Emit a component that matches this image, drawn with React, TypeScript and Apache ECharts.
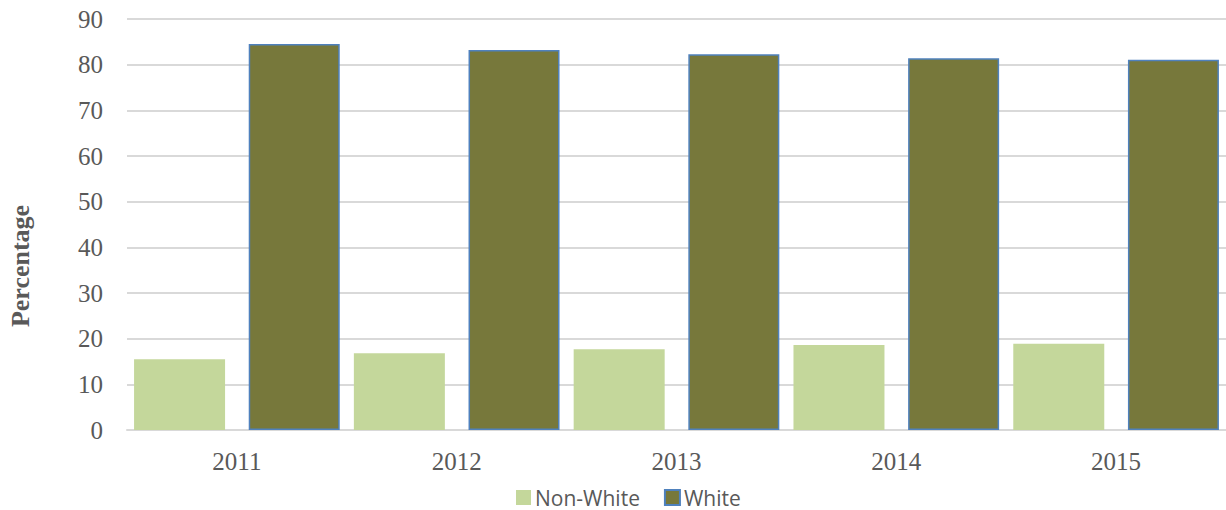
import React, { useEffect, useRef } from "react";
import * as echarts from "echarts";

const years = ["2011", "2012", "2013", "2014", "2015"];
const nonWhite = [15.5, 16.8, 17.7, 18.6, 18.9];
const white = [84.5, 83.2, 82.3, 81.4, 81.1];
const yTicks = { min: 0, max: 90, interval: 10 };

export default function App() {
  const ref = useRef<HTMLDivElement>(null);
  useEffect(() => {
    document.body.style.margin = "0";
    const chart = echarts.init(ref.current!, null, { renderer: "svg" });
    const grey = "#595959";
    chart.setOption({
      animation: false,
      backgroundColor: "#ffffff",
      grid: { left: 127, top: 19, width: 1099, height: 411, containLabel: false },
      legend: {
        left: 516,
        top: 487,
        padding: 0,
        itemWidth: 15,
        itemHeight: 15,
        itemGap: 24,
        icon: "rect",
        textStyle: { fontFamily: "Open Sans", fontSize: 21, color: grey, padding: [0, 0, 0, -1] },
        data: ["Non-White", "White"],
      },
      xAxis: {
        type: "category",
        data: years,
        axisLine: { lineStyle: { color: "#d9d9d9", width: 2 } },
        axisTick: { show: false },
        axisLabel: { fontFamily: "Liberation Serif", fontSize: 25, color: grey, margin: 19 },
      },
      yAxis: {
        type: "value",
        min: yTicks.min,
        max: yTicks.max,
        interval: yTicks.interval,
        axisLine: { show: false },
        axisTick: { show: false },
        splitLine: { lineStyle: { color: "#d9d9d9", width: 2 } },
        axisLabel: { fontFamily: "Liberation Serif", fontSize: 25, color: grey, margin: 24 },
      },
      graphic: [
        {
          type: "text",
          x: 20,
          y: 266,
          rotation: Math.PI / 2,
          style: {
            text: "Percentage",
            fontFamily: "Liberation Serif",
            fontWeight: "bold",
            fontSize: 26,
            fill: grey,
            textAlign: "center",
            textVerticalAlign: "middle",
          },
        },
      ],
      series: [
        {
          name: "Non-White",
          type: "bar",
          data: nonWhite,
          barWidth: 91,
          barGap: "26%",
          itemStyle: { color: "#c4d79b" },
        },
        {
          name: "White",
          type: "bar",
          data: white,
          barWidth: 91,
          itemStyle: { color: "#77783b", borderColor: "#4f81bd", borderWidth: 1.5 },
        },
      ],
    });
    return () => chart.dispose();
  }, []);
  return <div ref={ref} style={{ width: 1226, height: 510 }} />;
}
